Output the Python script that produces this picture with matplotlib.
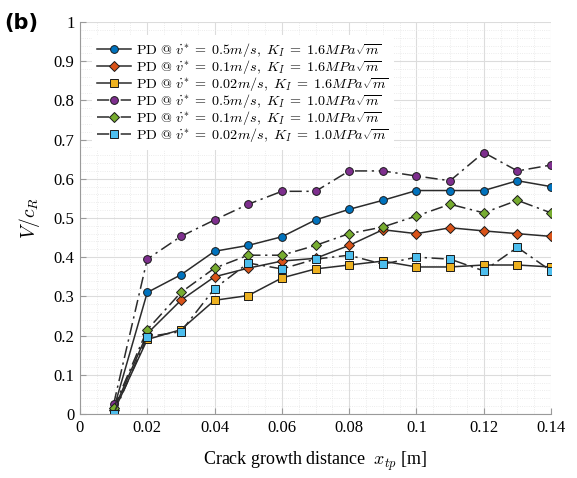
import matplotlib
matplotlib.use("Agg")
import matplotlib.pyplot as plt
from matplotlib.ticker import MultipleLocator

# ── Datos ────────────────────────────────────────────────────────────────────
x_tp = [0.01, 0.02, 0.03, 0.04, 0.05, 0.06, 0.07,
        0.08, 0.09, 0.10, 0.11, 0.12, 0.13, 0.14]

v05_k16 = [0.012, 0.31, 0.355, 0.415, 0.43, 0.452, 0.495,
           0.522, 0.545, 0.57, 0.57, 0.57, 0.595, 0.58]
v01_k16 = [0.01, 0.205, 0.29, 0.35, 0.372, 0.39, 0.397,
           0.43, 0.47, 0.46, 0.475, 0.467, 0.46, 0.453]
v002_k16 = [0.005, 0.19, 0.215, 0.29, 0.302, 0.347, 0.37,
            0.38, 0.39, 0.375, 0.375, 0.38, 0.38, 0.375]
v05_k10 = [0.025, 0.395, 0.453, 0.495, 0.535, 0.568, 0.568,
           0.62, 0.62, 0.607, 0.595, 0.667, 0.62, 0.635]
v01_k10 = [0.015, 0.215, 0.31, 0.372, 0.405, 0.405, 0.43,
           0.46, 0.477, 0.505, 0.535, 0.513, 0.545, 0.513]
v002_k10 = [0.0, 0.197, 0.21, 0.32, 0.385, 0.37, 0.395,
            0.405, 0.382, 0.40, 0.395, 0.365, 0.425, 0.365]

velocidades = ["0.5", "0.1", "0.02", "0.5", "0.1", "0.02"]
tenacidades = ["1.6", "1.6", "1.6", "1.0", "1.0", "1.0"]
labels = [r"$\mathrm{PD\ @\ }\dot{v}^{*}\;=\;%sm/s,\ K_I\;=\;%sMPa\sqrt{m}$"
          % (v, k) for v, k in zip(velocidades, tenacidades)]

# ── Estilo ───────────────────────────────────────────────────────────────────
plt.rcParams["font.family"] = ["Liberation Serif", "DejaVu Serif"]
plt.rcParams["mathtext.fontset"] = "cm"

COLOR_LINEA = "#2b2b2b"
DASHDOT = (0, (8, 3, 1.5, 3))
series = [
    (v05_k16, "#0072BD", "o", "-"),
    (v01_k16, "#D95319", "D", "-"),
    (v002_k16, "#EDB120", "s", "-"),
    (v05_k10, "#7E2F8E", "o", DASHDOT),
    (v01_k10, "#77AC30", "D", DASHDOT),
    (v002_k10, "#4DBEEE", "s", DASHDOT),
]

fig = plt.figure(figsize=(5.77, 4.78), dpi=100)
ax = fig.add_axes([0.1386, 0.134, 0.8164, 0.82])

for (y, c, m, ls), lab in zip(series, labels):
    ms = 5.0 if m == "D" else 5.6
    ax.plot(x_tp, y, color=COLOR_LINEA, lw=1.1, ls=ls, marker=m,
            markersize=ms, markerfacecolor=c, markeredgecolor="#1a1a1a",
            markeredgewidth=0.7, label=lab)

ax.set_xlim(0, 0.14)
ax.set_ylim(0, 1)
ax.xaxis.set_minor_locator(MultipleLocator(0.005))
ax.yaxis.set_minor_locator(MultipleLocator(0.02))
ax.set_xticks([0, 0.02, 0.04, 0.06, 0.08, 0.1, 0.12, 0.14])
ax.set_xticklabels(["0", "0.02", "0.04", "0.06", "0.08", "0.1", "0.12", "0.14"])
ax.set_yticks([i / 10 for i in range(11)])
ax.set_yticklabels(["0", "0.1", "0.2", "0.3", "0.4", "0.5", "0.6",
                    "0.7", "0.8", "0.9", "1"])

ax.grid(which="major", color="#dcdcdc", lw=0.8)
ax.grid(which="minor", color="#e6e6e6", lw=0.6, ls=":")
ax.set_axisbelow(True)

for s in ("top", "right"):
    ax.spines[s].set_visible(False)
for s in ("left", "bottom"):
    ax.spines[s].set_color("#9a9a9a")
    ax.spines[s].set_linewidth(0.8)
ax.tick_params(which="major", direction="in", length=4, color="#9a9a9a",
               labelsize=12, pad=4)
ax.tick_params(which="minor", length=0)

ax.set_xlabel(r"Crack growth distance  $x_{tp}$ [m]", fontsize=13, labelpad=10)
ax.set_ylabel(r"$V/c_R$", fontsize=14, labelpad=8)

leg = ax.legend(loc="upper left", bbox_to_anchor=(0.01, 0.985), fontsize=10.2,
                frameon=True, fancybox=False, edgecolor="none",
                facecolor="white", framealpha=1, handlelength=2.4,
                labelspacing=-0.06, borderpad=0.4, handletextpad=0.3)

fig.text(0.008, 0.94, "(b)", fontsize=15, fontweight="bold",
         family="DejaVu Sans")

fig.savefig("out.png", dpi=100, facecolor="white")
